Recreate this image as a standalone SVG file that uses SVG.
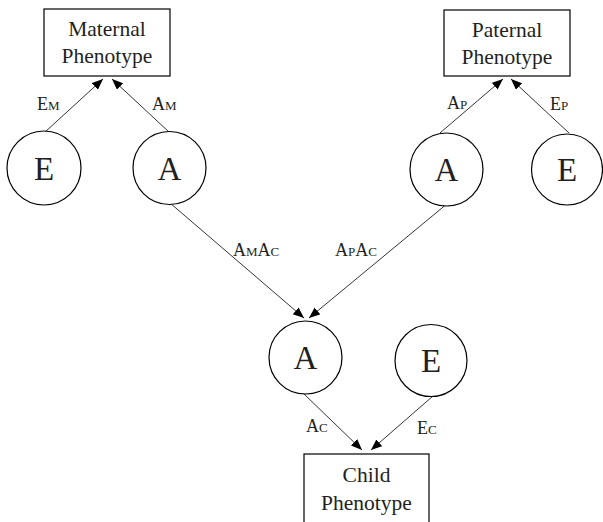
<svg xmlns="http://www.w3.org/2000/svg" width="603" height="522" viewBox="0 0 603 522">
<style>
.box{fill:#fff;stroke:#000;stroke-width:1.2}
.circ{fill:#fff;stroke:#000;stroke-width:1.2}
.t{font-family:"Liberation Serif","Times New Roman",serif;fill:#231f20}
.bt{font-size:21.5px;text-anchor:middle}
.ct{font-size:33px;text-anchor:middle}
.lt{font-size:18px}
.sub{font-size:13px}
.edge{stroke:#000;stroke-width:0.8;fill:none;marker-end:url(#ah)}
</style>
<defs>
<marker id="ah" markerWidth="12" markerHeight="10" refX="11" refY="4.5" orient="auto" markerUnits="userSpaceOnUse">
<path d="M0,0 L11,4.5 L0,9 Z" fill="#000"/>
</marker>
</defs>
<rect width="603" height="522" fill="#fff"/>
<g id="connectors">
<line class="edge" x1="45" y1="132" x2="103" y2="79"/>
<line class="edge" x1="169" y1="132" x2="112" y2="79"/>
<line class="edge" x1="440" y1="133" x2="503" y2="79"/>
<line class="edge" x1="569" y1="133" x2="511" y2="79"/>
<line class="edge" x1="170" y1="203" x2="304" y2="318"/>
<line class="edge" x1="448" y1="203" x2="309" y2="318"/>
<line class="edge" x1="303" y1="393" x2="362" y2="450"/>
<line class="edge" x1="433" y1="396" x2="371" y2="450"/>
</g>
<g id="maternal">
<rect class="box" x="44" y="9" width="126" height="67"/>
<text class="t bt" x="107" y="36">Maternal</text>
<text class="t bt" x="107" y="63">Phenotype</text>
</g>
<g id="paternal">
<rect class="box" x="444" y="10" width="126" height="66"/>
<text class="t bt" x="507" y="37">Paternal</text>
<text class="t bt" x="507" y="64">Phenotype</text>
</g>
<g id="child">
<rect class="box" x="304" y="454" width="125" height="80"/>
<text class="t bt" x="366.5" y="482">Child</text>
<text class="t bt" x="366.5" y="510">Phenotype</text>
</g>
<g id="E_mother">
<circle class="circ" cx="44" cy="168" r="37"/>
<text class="t ct" x="44" y="180">E</text>
</g>
<g id="A_mother">
<circle class="circ" cx="169.5" cy="168" r="36.5"/>
<text class="t ct" x="169.5" y="180">A</text>
</g>
<g id="A_father">
<circle class="circ" cx="446.5" cy="169.5" r="36.5"/>
<text class="t ct" x="446.5" y="181">A</text>
</g>
<g id="E_father">
<circle class="circ" cx="567" cy="169.5" r="35.5"/>
<text class="t ct" x="567" y="181">E</text>
</g>
<g id="A_child">
<circle class="circ" cx="305.5" cy="357.5" r="36.5"/>
<text class="t ct" x="305.5" y="369">A</text>
</g>
<g id="E_child">
<circle class="circ" cx="431" cy="360.5" r="36"/>
<text class="t ct" x="431" y="372">E</text>
</g>
<g id="labels">
<text class="t lt" x="37" y="110">E<tspan class="sub">M</tspan></text>
<text class="t lt" x="152" y="110">A<tspan class="sub">M</tspan></text>
<text class="t lt" x="447" y="109">A<tspan class="sub">P</tspan></text>
<text class="t lt" x="550" y="110">E<tspan class="sub">P</tspan></text>
<text class="t lt" x="233" y="256">A<tspan class="sub">M</tspan>A<tspan class="sub">C</tspan></text>
<text class="t lt" x="335" y="256">A<tspan class="sub">P</tspan>A<tspan class="sub">C</tspan></text>
<text class="t lt" x="306" y="432">A<tspan class="sub">C</tspan></text>
<text class="t lt" x="417" y="434">E<tspan class="sub">C</tspan></text>
</g>
</svg>
